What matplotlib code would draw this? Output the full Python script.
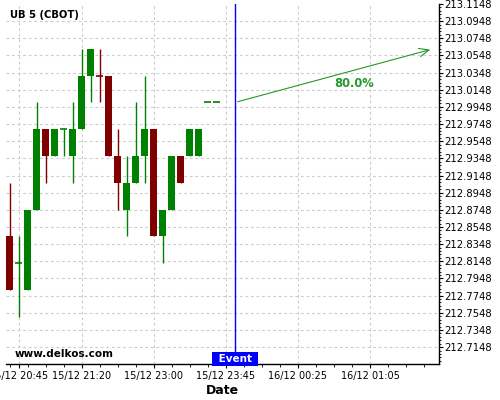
import matplotlib
matplotlib.use("Agg")
import matplotlib.pyplot as plt
import matplotlib.transforms as mtransforms
from matplotlib.ticker import FixedLocator, MultipleLocator, AutoMinorLocator, FormatStrFormatter
import numpy as np

# 5 minute candles, prices in 1/32 steps
opens  = [212.84375, 212.8125, 212.78125, 212.875, 212.96875, 212.9375, 212.96875, 212.9375,
          212.96875, 213.03125, 213.03125, 213.03125, 212.9375, 212.875, 212.90625, 212.9375,
          212.96875, 212.84375, 212.875, 212.9375, 212.9375, 212.9375, 213.0, 213.0]
highs  = [212.90625, 212.84375, 212.875, 213.0, 212.96875, 212.96875, 212.96875, 213.0,
          213.0625, 213.0625, 213.0625, 213.03125, 212.96875, 212.9375, 213.0, 213.03125,
          212.96875, 212.875, 212.9375, 212.9375, 212.96875, 212.96875, 213.0, 213.0]
lows   = [212.78125, 212.75, 212.78125, 212.875, 212.90625, 212.9375, 212.9375, 212.90625,
          212.96875, 213.0, 213.0, 212.9375, 212.875, 212.84375, 212.90625, 212.90625,
          212.84375, 212.8125, 212.875, 212.90625, 212.9375, 212.9375, 213.0, 213.0]
closes = [212.78125, 212.8125, 212.875, 212.96875, 212.9375, 212.96875, 212.96875, 212.96875,
          213.03125, 213.0625, 213.03125, 212.9375, 212.90625, 212.90625, 212.9375, 212.96875,
          212.84375, 212.875, 212.9375, 212.90625, 212.96875, 212.96875, 213.0, 213.0]
doji_up = [1, 6, 22, 23]   # flat candles drawn green

tick_pos = [1, 8, 16, 24, 32, 40]
tick_labels = ["15/12 20:45", "15/12 21:20", "15/12 23:00", "15/12 23:45", "16/12 00:25", "16/12 01:05"]

event_idx = 25
event_price = 213.0
target_idx = 47
target_price = 213.0625
prob_label = "80.0%"

green = "#008000"
red = "#800000"
arrow_green = "#22992a"

fig = plt.figure(figsize=(5, 4), dpi=100)
ax = fig.add_axes([0.012, 0.09, 0.866, 0.9])

w = 0.78
for i in range(len(opens)):
    o, h, l, c = opens[i], highs[i], lows[i], closes[i]
    if c > o or (c == o and i in doji_up):
        col = green
    else:
        col = red
    ax.vlines(i, l, h, color=col, lw=1, zorder=3)
    if c == o:
        ax.hlines(o, i - w / 2, i + w / 2, color=col, lw=1.2, zorder=3)
    else:
        ax.bar(i, abs(c - o), bottom=min(o, c), width=w, color=col, edgecolor=col, lw=0, zorder=4)

ax.set_xlim(-0.44, 47.67)
ax.set_ylim(212.6951, 213.1148)

ax.yaxis.tick_right()
yt = 212.7148 + 0.02 * np.arange(21)
ax.yaxis.set_major_locator(FixedLocator(yt))
ax.yaxis.set_major_formatter(FormatStrFormatter("%.4f"))
ax.yaxis.set_minor_locator(AutoMinorLocator(5))
ax.tick_params(axis="y", which="major", length=3, pad=1, labelsize=7.2, direction="out")
ax.tick_params(axis="y", which="minor", length=1.5, direction="out")

ax.xaxis.set_major_locator(FixedLocator(tick_pos))
ax.set_xticklabels(tick_labels)
ax.xaxis.set_minor_locator(MultipleLocator(2))
ax.tick_params(axis="x", which="major", length=3, pad=2, labelsize=7)
ax.tick_params(axis="x", which="minor", length=2)

ax.grid(True, which="major", color="#cccccc", linestyle=(0, (2.5, 2.5)), lw=0.8)
ax.set_axisbelow(True)
# top grid line sits on the frame edge and is not shown
ax.yaxis.get_gridlines()[-1].set_visible(False)

for s in ["left", "top"]:
    ax.spines[s].set_visible(False)
ax.spines["right"].set_linewidth(1)
ax.spines["bottom"].set_linewidth(1)

ax.set_xlabel("Date", fontsize=9, fontweight="bold", labelpad=2)

# event marker
ax.axvline(event_idx, color="#0000ff", lw=1, zorder=5)
trans = mtransforms.blended_transform_factory(ax.transData, ax.transAxes)
ax.text(event_idx, 0.0, " Event ", transform=trans, ha="center", va="bottom", color="white",
        fontsize=7.5, fontweight="bold", zorder=6,
        bbox=dict(boxstyle="square,pad=0.22", fc="#0000ff", ec="none"))

ax.annotate("", xy=(target_idx, target_price), xytext=(event_idx, event_price),
            arrowprops=dict(arrowstyle="->,head_length=0.7,head_width=0.3", color=arrow_green, lw=0.8),
            zorder=6)
ax.text(38.2, 213.0225, prob_label, color=arrow_green, fontsize=8.3, fontweight="bold",
        ha="center", va="center")

fig.text(0.021, 1 - 15.5 / 400, "UB 5 (CBOT)", fontsize=7.2, fontweight="bold", va="center", ha="left")
fig.text(0.03, 1 - 354 / 400, "www.delkos.com", fontsize=7.5, fontweight="bold", va="center", ha="left")

fig.savefig("out.png", dpi=100)
